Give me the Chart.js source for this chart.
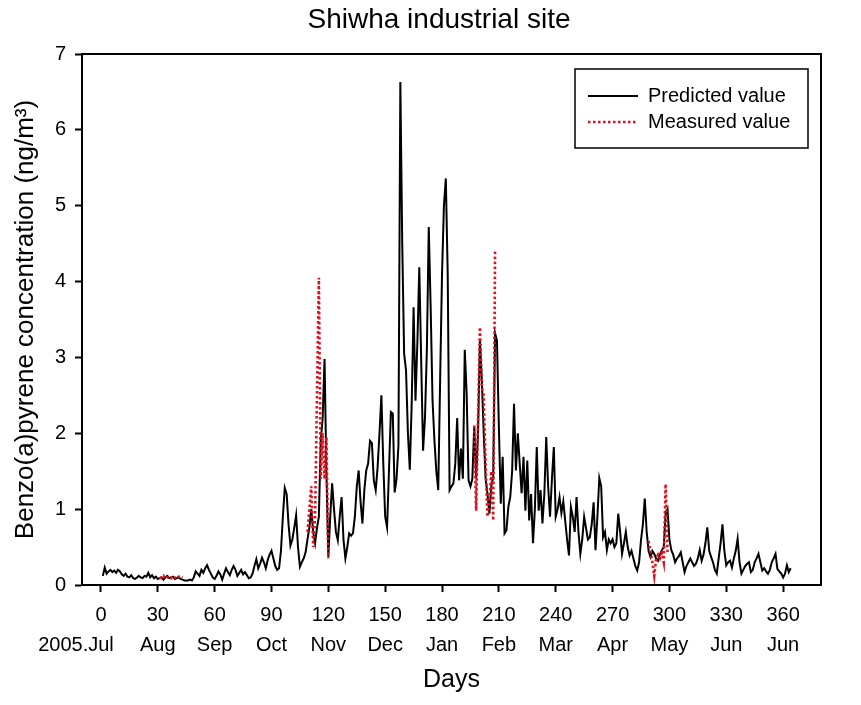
<!DOCTYPE html>
<html>
<head>
<meta charset="utf-8">
<script src="https://cdn.jsdelivr.net/npm/chart.js@4/dist/chart.umd.min.js"></script>
<style>
html, body { margin: 0; padding: 0; background: #ffffff; }
#wrap { width: 861px; height: 705px; position: relative; }
</style>
</head>
<body>
<div id="wrap"><canvas id="c"></canvas></div>
<script>
// ---------------- data ----------------
const chartTitle = "Shiwha industrial site";
const xAxisTitle = "Days";
const yAxisTitle = "Benzo(a)pyrene concentration (ng/m³)";
const legendLabels = ["Predicted value", "Measured value"];

const xTickValues = [0, 30, 60, 90, 120, 150, 180, 210, 240, 270, 300, 330, 360];
const monthLabels = ["2005.Jul", "Aug", "Sep", "Oct", "Nov", "Dec", "Jan", "Feb", "Mar", "Apr", "May", "Jun", "Jun"];
const yTickValues = [0, 1, 2, 3, 4, 5, 6, 7];

// predicted daily values, day 1 .. day 364
const predictedStartDay = 1;
const predictedValues = [
  0.12,0.23,0.15,0.18,0.20,0.17,0.19,0.16,0.20,0.18,
  0.14,0.12,0.15,0.11,0.10,0.13,0.09,0.08,0.10,0.12,
  0.10,0.09,0.12,0.11,0.16,0.10,0.13,0.09,0.11,0.08,
  0.09,0.10,0.07,0.10,0.12,0.09,0.10,0.11,0.08,0.09,
  0.10,0.08,0.07,0.06,0.06,0.06,0.07,0.06,0.10,0.18,
  0.15,0.12,0.20,0.16,0.22,0.26,0.20,0.15,0.10,0.08,
  0.12,0.18,0.14,0.07,0.15,0.22,0.17,0.13,0.20,0.25,
  0.20,0.12,0.16,0.20,0.14,0.17,0.13,0.09,0.10,0.15,
  0.25,0.34,0.22,0.28,0.36,0.30,0.22,0.33,0.40,0.45,
  0.35,0.25,0.20,0.22,0.45,0.90,1.28,1.20,0.80,0.52,
  0.60,0.75,0.92,0.50,0.24,0.30,0.35,0.43,0.60,0.76,
  1.00,0.70,0.55,0.75,0.90,1.90,2.20,2.98,1.47,0.37,
  0.90,1.34,1.00,0.70,0.59,0.90,1.16,0.60,0.35,0.50,
  0.68,0.65,0.68,0.90,1.29,1.51,1.10,0.81,1.25,1.51,
  1.60,1.90,1.87,1.38,1.25,1.55,2.00,2.50,1.60,0.90,
  0.76,1.50,2.28,2.26,1.22,1.40,1.84,6.63,4.50,3.05,
  2.83,2.00,1.52,2.40,3.66,2.43,3.20,4.19,2.96,1.77,
  2.20,3.10,4.72,3.66,2.43,1.90,1.50,1.25,2.70,4.10,
  5.00,5.36,4.10,1.25,1.30,1.34,1.60,2.20,1.38,1.80,
  1.40,3.10,2.52,1.38,1.30,1.40,2.10,1.40,2.00,3.22,
  2.70,2.00,1.40,1.20,0.94,1.30,1.42,3.32,3.22,2.08,
  1.07,1.69,0.68,0.72,1.03,1.16,1.50,2.39,1.51,2.00,
  1.60,1.21,1.69,0.98,1.64,0.85,1.20,0.55,1.00,1.82,
  0.98,1.25,0.81,1.20,1.95,1.30,0.90,1.40,1.82,0.90,
  1.00,1.16,0.95,1.10,0.85,0.60,0.39,1.03,0.90,0.70,
  1.16,0.70,0.41,0.60,0.90,0.75,0.60,0.63,0.80,1.09,
  0.46,0.90,1.41,1.30,0.63,0.70,0.46,0.60,0.55,0.60,
  0.50,0.55,0.94,0.70,0.41,0.55,0.70,0.50,0.39,0.45,
  0.35,0.25,0.19,0.30,0.59,0.80,1.14,0.70,0.45,0.37,
  0.45,0.41,0.35,0.32,0.40,0.46,0.50,0.94,1.00,0.60,
  0.46,0.40,0.30,0.35,0.38,0.43,0.30,0.17,0.25,0.30,
  0.35,0.30,0.25,0.28,0.35,0.46,0.32,0.40,0.55,0.76,
  0.45,0.37,0.30,0.20,0.15,0.35,0.55,0.80,0.45,0.26,
  0.30,0.32,0.23,0.35,0.45,0.61,0.30,0.15,0.20,0.25,
  0.28,0.30,0.17,0.20,0.30,0.35,0.41,0.30,0.19,0.22,
  0.18,0.15,0.20,0.30,0.35,0.41,0.21,0.18,0.15,0.10,
  0.15,0.26,0.17,0.22
];

// measured values (null = gap between sampling campaigns)
const measuredDays = [
  31,32,33,34,35,36,37,38,39,40,41,42,43,
  76,
  109,110,111,112,113,115,116,117,118,119,120,
  160,
  197,198,200,201,202,203,204,205,206,207,208,
  250,
  289,290,291,292,293,294,295,296,297,298,299
];
const measuredValues = [
  0.10,0.09,0.12,0.08,0.10,0.11,0.09,0.12,0.10,0.08,0.11,0.12,0.10,
  null,
  0.70,1.00,1.30,0.50,0.90,4.05,1.40,2.00,1.40,1.95,0.35,
  null,
  2.10,0.98,3.40,2.60,2.50,1.60,0.90,1.10,1.50,0.85,4.42,
  null,
  0.58,0.45,0.30,0.12,0.35,0.40,0.35,0.42,0.30,1.33,0.42
];

// ---------------- chart ----------------
const FONT = "'Liberation Sans', Arial, Helvetica, sans-serif";
const RED = "#e0101c";

const predictedPoints = predictedValues.map((v, i) => ({ x: predictedStartDay + i, y: v }));
const measuredPoints = measuredDays.map((d, i) => ({ x: d, y: measuredValues[i] }));

const framePlugin = {
  id: 'frameTitleLegend',
  afterDraw(chart) {
    const ctx = chart.ctx;
    const a = chart.chartArea;
    ctx.save();
    // full box frame
    ctx.strokeStyle = '#000';
    ctx.lineWidth = 2;
    ctx.strokeRect(a.left, a.top, a.right - a.left, a.bottom - a.top);

    // title
    ctx.fillStyle = '#000';
    ctx.font = "28px " + FONT;
    ctx.textAlign = 'center';
    ctx.textBaseline = 'middle';
    ctx.fillText(chartTitle, 439, 20);

    // legend box
    const bx = 575, by = 69, bw = 233, bh = 79;
    ctx.lineWidth = 1.5;
    ctx.strokeRect(bx, by, bw, bh);
    ctx.font = "20px " + FONT;
    ctx.textAlign = 'left';
    ctx.textBaseline = 'middle';
    // predicted sample
    ctx.beginPath();
    ctx.strokeStyle = '#000';
    ctx.lineWidth = 2;
    ctx.moveTo(588, 96); ctx.lineTo(638, 96);
    ctx.stroke();
    ctx.fillText(legendLabels[0], 648, 96);
    // measured sample
    ctx.beginPath();
    ctx.strokeStyle = RED;
    ctx.lineWidth = 2.6;
    ctx.setLineDash([2.5, 2.5]);
    ctx.moveTo(588, 122); ctx.lineTo(638, 122);
    ctx.stroke();
    ctx.setLineDash([]);
    ctx.fillText(legendLabels[1], 648, 122);
    ctx.restore();
  }
};

new Chart(document.getElementById('c'), {
  type: 'line',
  data: {
    datasets: [
      {
        label: legendLabels[1],
        data: measuredPoints,
        borderColor: RED,
        borderWidth: 2.6,
        borderDash: [2.5, 2.5],
        pointRadius: 0,
        tension: 0,
        spanGaps: false,
        fill: false,
        order: 0
      },
      {
        label: legendLabels[0],
        data: predictedPoints,
        borderColor: '#000',
        borderWidth: 2,
        pointRadius: 0,
        tension: 0,
        fill: false,
        order: 1
      }
    ]
  },
  options: {
    responsive: true,
    maintainAspectRatio: false,
    animation: false,
    layout: { padding: { top: 54, right: 40, left: 0, bottom: 0 } },
    plugins: {
      legend: { display: false },
      title: { display: false },
      tooltip: { enabled: false }
    },
    scales: {
      x: {
        type: 'linear',
        min: -10,
        max: 380,
        afterBuildTicks: s => { s.ticks = xTickValues.map(v => ({ value: v })); },
        afterFit: s => { s.height = 120; },
        ticks: {
          autoSkip: false,
          maxRotation: 0,
          minRotation: 0,
          color: '#000',
          padding: 8,
          font: { family: FONT, size: 20, lineHeight: 1.5 },
          callback: (v, i) => {
            const k = xTickValues.indexOf(v);
            let m = monthLabels[k];
            if (k === 0) m = m + "         ";
            return [String(v), m];
          }
        },
        grid: { drawOnChartArea: false, drawTicks: true, tickLength: 7, tickWidth: 2, tickColor: '#000' },
        border: { display: true, color: '#000', width: 2 },
        title: {
          display: true, text: xAxisTitle, color: '#000',
          font: { family: FONT, size: 25 },
          padding: { top: 0, bottom: 10 }
        }
      },
      y: {
        type: 'linear',
        min: 0,
        max: 7,
        afterBuildTicks: s => { s.ticks = yTickValues.map(v => ({ value: v })); },
        afterFit: s => { s.width = 82; },
        ticks: {
          color: '#000',
          padding: 9,
          font: { family: FONT, size: 20 }
        },
        grid: { drawOnChartArea: false, drawTicks: true, tickLength: 7, tickWidth: 2, tickColor: '#000' },
        border: { display: true, color: '#000', width: 2 },
        title: {
          display: true, text: yAxisTitle, color: '#000',
          font: { family: FONT, size: 26 },
          padding: { top: 10, bottom: 0 }
        }
      }
    }
  },
  plugins: [framePlugin]
});
</script>
</body>
</html>
